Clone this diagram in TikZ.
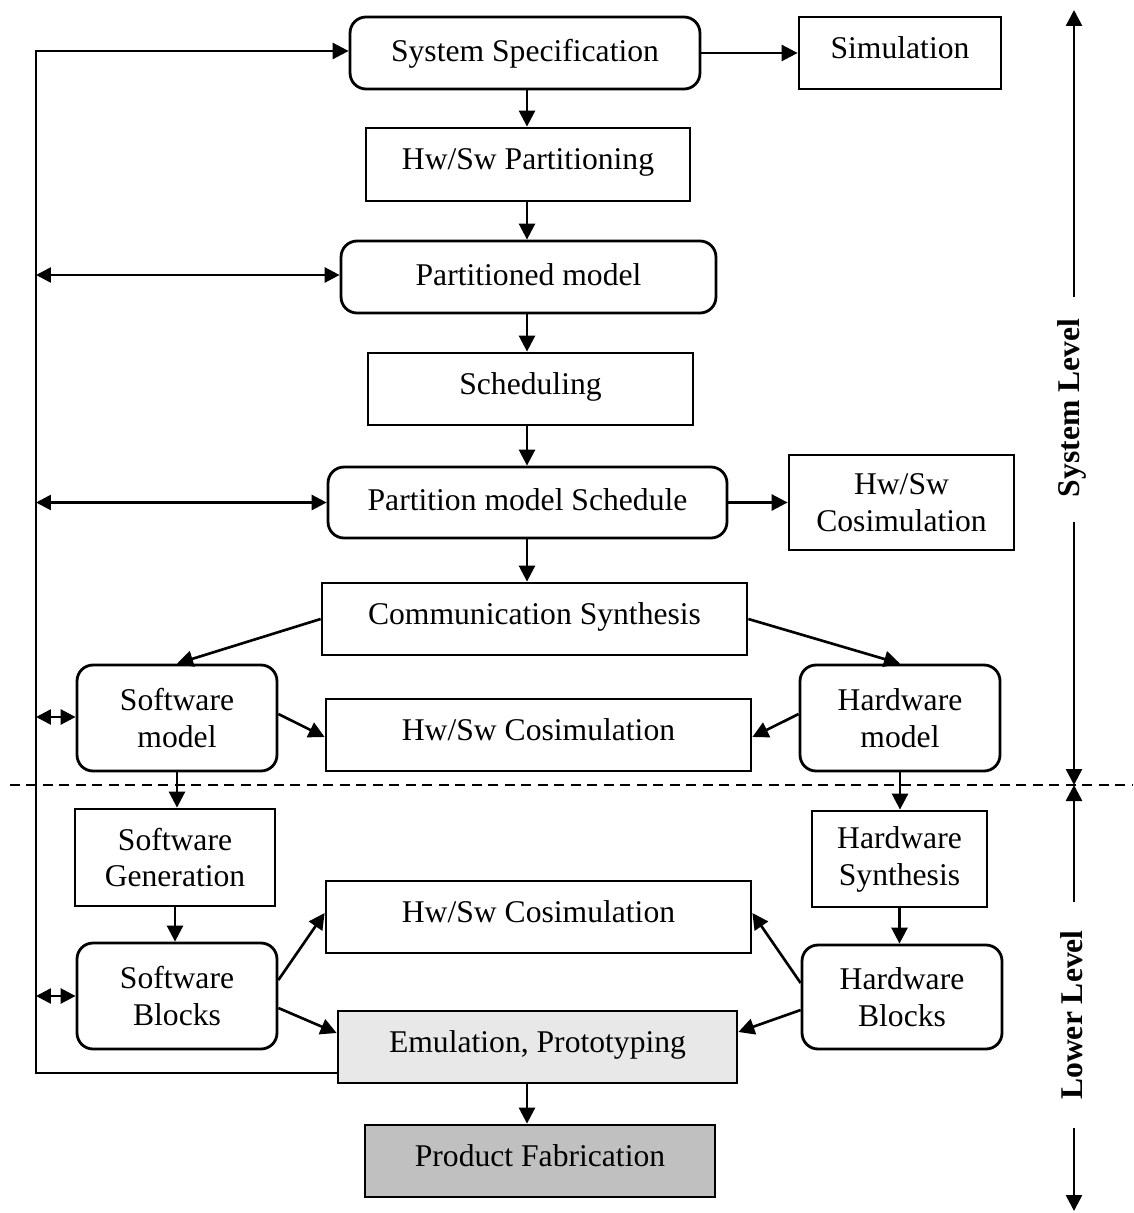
\documentclass[tikz,border=0pt]{standalone}
\usepackage{fontspec}
\setmainfont{Liberation Serif}
\usetikzlibrary{arrows.meta,calc}
\definecolor{lightfill}{HTML}{E8E8E8}
\definecolor{darkfill}{HTML}{C0C0C0}
\begin{document}
\begin{tikzpicture}[x=0.02cm,y=-0.02cm,
  every node/.style={font=\fontsize{18}{21}\selectfont, align=center, inner sep=2pt},
  box/.style={draw, line width=1.6pt, rectangle},
  rbox/.style={box, rounded corners=0.32cm},
  oneline/.style={text height=12pt, text depth=6pt},
  roneline/.style={text height=12pt, text depth=2.8pt},
  arr/.style={line width=1.5pt, -{Triangle[length=0.32cm,width=0.32cm]}},
  biarr/.style={line width=1.5pt, {Triangle[length=0.3cm,width=0.3cm]}-{Triangle[length=0.3cm,width=0.3cm]}},
  lvl/.style={font=\fontsize{18}{21}\selectfont\bfseries, rotate=90}]
\useasboundingbox (0,0) rectangle (1133,1213);

% --- system level blocks ---
\node[rbox, roneline, minimum width=7cm,    minimum height=1.44cm] (spec)   at (525,53)    {System Specification};
\node[box,  oneline, minimum width=4.04cm, minimum height=1.44cm] (sim)    at (900,53)    {Simulation};
\node[box,  oneline, minimum width=6.48cm, minimum height=1.46cm] (part)   at (528,164.5) {Hw/Sw Partitioning};
\node[rbox, roneline, minimum width=7.5cm,  minimum height=1.44cm] (pmodel) at (528.5,277) {Partitioned model};
\node[box,  oneline, minimum width=6.5cm,  minimum height=1.44cm] (sched)  at (530.5,389) {Scheduling};
\node[rbox, roneline, minimum width=7.98cm, minimum height=1.42cm] (pms)    at (527.5,502.5) {Partition model Schedule};
\node[box,  minimum width=4.5cm,  minimum height=1.9cm]  (cosimA) at (901.5,502.5) {Hw/Sw\\Cosimulation};
\node[box,  oneline, minimum width=8.5cm,  minimum height=1.44cm] (comm)   at (534.5,619) {Communication Synthesis};
\node[rbox, minimum width=4cm,    minimum height=2.12cm] (swm)    at (177,718)   {Software\\model};
\node[box,  oneline, minimum width=8.5cm,  minimum height=1.44cm] (cosimB) at (538.5,735) {Hw/Sw Cosimulation};
\node[rbox, minimum width=4cm,    minimum height=2.12cm] (hwm)    at (900,718)   {Hardware\\model};

% --- lower level blocks ---
\node[box,  minimum width=4cm,    minimum height=1.94cm] (swgen)  at (175,857.5) {Software\\Generation};
\node[box,  minimum width=3.5cm,  minimum height=1.92cm] (hwsyn)  at (899.5,859) {Hardware\\Synthesis};
\node[box,  oneline, minimum width=8.5cm,  minimum height=1.44cm] (cosimC) at (538.5,917) {Hw/Sw Cosimulation};
\node[rbox, minimum width=4cm,    minimum height=2.12cm] (swb)    at (177,996)   {Software\\Blocks};
\node[rbox, minimum width=4cm,    minimum height=2.08cm] (hwb)    at (902,997)   {Hardware\\Blocks};
\node[box, oneline, fill=lightfill, minimum width=7.98cm, minimum height=1.44cm] (emu)  at (537.5,1047) {Emulation, Prototyping};
\node[box, oneline, fill=darkfill,  minimum width=7cm,    minimum height=1.44cm] (prod) at (540,1161)   {Product Fabrication};

% --- helper coordinates ---
\coordinate (vx) at (527,0);
\coordinate (ltop) at (36,51);
\coordinate (lbot) at (36,1073);
\coordinate (lx) at (36,0);

% --- main flow ---
\draw[arr] (spec.east) -- (sim.west);
\draw[arr] (spec.south -| vx) -- (part.north -| vx);
\draw[arr] (part.south -| vx) -- (pmodel.north -| vx);
\draw[arr] (pmodel.south -| vx) -- (sched.north -| vx);
\draw[arr] (sched.south -| vx) -- (pms.north -| vx);
\draw[arr] (pms.east) -- (cosimA.west);
\draw[arr] (pms.south -| vx) -- (comm.north -| vx);
\draw[arr] (comm.west) -- (swm.north);
\draw[arr] (comm.east) -- (hwm.north);
\draw[arr] ($(swm.east)+(0,-4)$) -- ($(cosimB.west)+(0,2)$);
\draw[arr] ($(hwm.west)+(0,-4)$) -- ($(cosimB.east)+(0,2)$);
\draw[arr] (swm.south) -- (swm.south |- swgen.north);
\draw[arr] (swgen.south) -- (swgen.south |- swb.north);
\draw[arr] (hwm.south) -- (hwm.south |- hwsyn.north);
\draw[arr] (hwsyn.south) -- (hwsyn.south |- hwb.north);
\draw[arr] ($(swb.east)+(0,-16)$) -- ($(cosimC.west)+(0,-4)$);
\draw[arr] ($(swb.east)+(0,12)$) -- ($(emu.west)+(0,-14)$);
\draw[arr] ($(hwb.west)+(0,-14)$) -- ($(cosimC.east)+(0,-4)$);
\draw[arr] ($(hwb.west)+(0,13)$) -- ($(emu.east)+(0,-15)$);
\draw[arr] (emu.south -| vx) -- (prod.north -| vx);

% --- feedback loop on the left ---
\draw[arr] (emu.west |- lbot) -- (lbot) -- (ltop) -- (spec.west |- ltop);
\draw[biarr] ($(lx |- pmodel.west)+(0,-2)$) -- ($(pmodel.west)+(0,-2)$);
\draw[biarr] (lx |- pms.west) -- (pms.west);
\draw[biarr] ($(lx |- swm.west)+(0,-1)$) -- ($(swm.west)+(0,-1)$);
\draw[biarr] (lx |- swb.west) -- (swb.west);

% --- level separator ---
\coordinate (dl) at (10,785);
\coordinate (dr) at (1133,785);
\draw[line width=1.3pt, dash pattern=on 0.2cm off 0.13cm] (dl) -- (dr);

% --- level indicators ---
\node[lvl] (syslvl) at (1072,408) {System Level};
\node[lvl] (lowlvl) at (1072,1015) {Lower Level};
\coordinate (s1) at (1074,297);
\coordinate (s2) at (1074,10);
\coordinate (s3) at (1074,522);
\coordinate (s4) at (1074,785);
\coordinate (s5) at (1074,902);
\coordinate (s6) at (1074,1128);
\coordinate (s7) at (1074,1211);
\draw[arr] (s1) -- (s2);
\draw[arr] (s3) -- (s4);
\draw[arr] (s5) -- (s4);
\draw[arr] (s6) -- (s7);
\end{tikzpicture}
\end{document}
